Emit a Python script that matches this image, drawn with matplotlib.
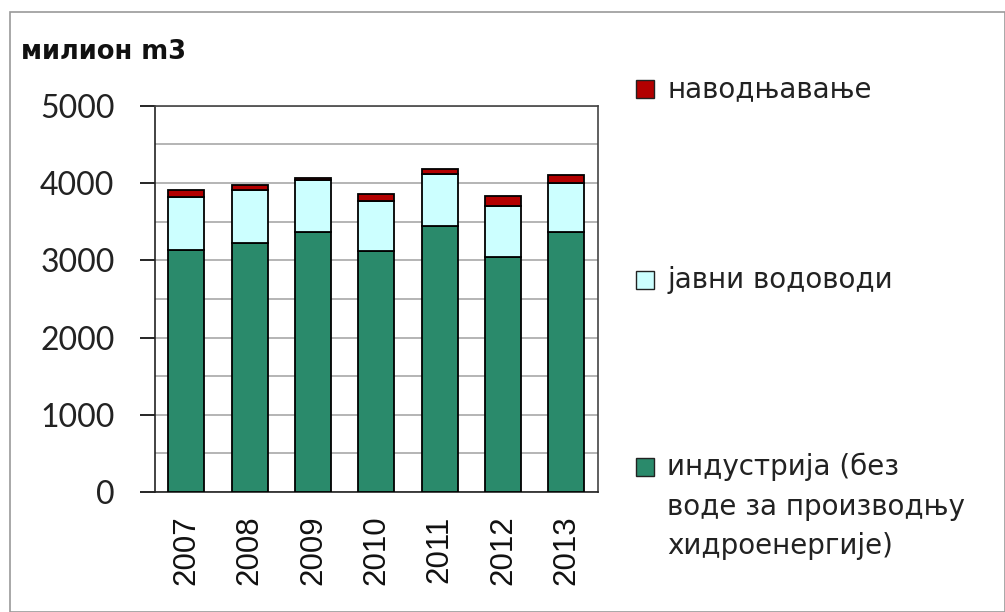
import matplotlib
matplotlib.use("Agg")
import matplotlib.pyplot as plt
from matplotlib.patches import Rectangle
import numpy as np

years = ["2007", "2008", "2009", "2010", "2011", "2012", "2013"]
industry = [3130, 3230, 3370, 3120, 3450, 3040, 3370]
public_supply = [690, 675, 670, 645, 670, 670, 635]
irrigation = [95, 70, 30, 95, 60, 125, 95]
yticks = [0, 1000, 2000, 3000, 4000, 5000]

lbl_irr = "наводњавање"
lbl_pub = "јавни водоводи"
lbl_ind = "индустрија (без\nводе за производњу\nхидроенергије)"
unit = "милион m3"

c_ind = "#2a8a6b"
c_pub = "#ccffff"
c_irr = "#b30000"

fig = plt.figure(figsize=(10.05, 6.12), dpi=100)
fig.patches.append(Rectangle((0.010, 0.0), 0.99, 0.98, transform=fig.transFigure,
                             fill=False, edgecolor="#9a9a9a", linewidth=1.2))
ax = fig.add_axes([0.154, 0.196, 0.441, 0.631])

x = np.arange(len(years))
w = 0.57
ind = np.array(industry)
pub = np.array(public_supply)
irr = np.array(irrigation)
ax.bar(x, ind, w, color=c_ind, edgecolor="black", linewidth=1.3, zorder=3)
ax.bar(x, pub, w, bottom=ind, color=c_pub, edgecolor="black", linewidth=1.3, zorder=3)
ax.bar(x, irr, w, bottom=ind + pub, color=c_irr, edgecolor="black", linewidth=1.3, zorder=3)

ax.set_xlim(-0.5, len(years) - 0.5)
ax.set_ylim(0, 5000)
ax.set_yticks(yticks)
ax.set_yticklabels([str(v) for v in yticks], fontsize=23, family="Lato", color="#222222")
ax.set_yticks(np.arange(0, 5001, 500), minor=True)
ax.tick_params(axis="y", which="minor", length=0)
ax.tick_params(axis="y", which="major", length=11, width=1.2, pad=18)
ax.grid(axis="y", which="both", color="#a8a8a8", linewidth=1.2, zorder=0)
ax.set_xticks(x)
ax.set_xticklabels(years, rotation=90, fontsize=22.5, family="Liberation Sans", color="#111111")
ax.tick_params(axis="x", length=0, pad=17)
for s in ax.spines.values():
    s.set_color("#444444")
    s.set_linewidth(1.2)
ax.spines["left"].set_color("#222222")
ax.spines["bottom"].set_color("#222222")

fig.text(0.021, 1 - 52 / 612, unit, fontsize=18.5, fontweight="bold", family="DejaVu Sans",
         color="#111111", va="center")

mk_x = 636 / 1005
mk_w = 18 / 1005
mk_h = 18 / 612
tx_x = 667 / 1005
fs_leg = 20

def marker(ypix, color):
    yc = 1 - ypix / 612
    fig.patches.append(Rectangle((mk_x, yc - mk_h / 2), mk_w, mk_h,
                                 transform=fig.transFigure, facecolor=color,
                                 edgecolor="#222222", linewidth=1.0))

marker(89, c_irr)
fig.text(tx_x, 1 - 89 / 612, lbl_irr, fontsize=fs_leg, family="DejaVu Sans",
         color="#222222", va="center")
marker(280, c_pub)
fig.text(tx_x, 1 - 280 / 612, lbl_pub, fontsize=fs_leg, family="DejaVu Sans",
         color="#222222", va="center")
marker(467, c_ind)
fig.text(tx_x, 1 - 453 / 612, lbl_ind, fontsize=fs_leg, family="DejaVu Sans",
         color="#222222", va="top", linespacing=1.52)

fig.savefig("out.png", dpi=100)
